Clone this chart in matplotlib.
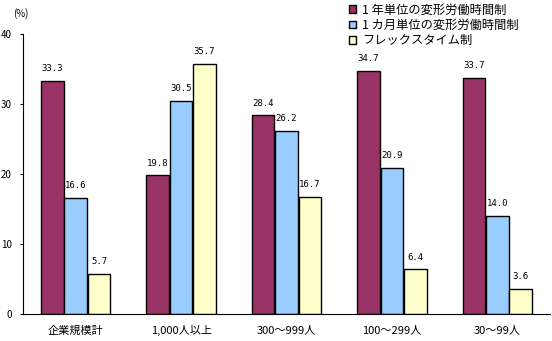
import matplotlib.pyplot as plt
import numpy as np

plt.rcParams['font.family'] = ['Noto Sans CJK JP', 'DejaVu Sans']

categories = ["企業規模計", "1,000人以上", "300～999人", "100～299人", "30～99人"]
series_names = ["1 年単位の変形労働時間制", "1 カ月単位の変形労働時間制", "フレックスタイム制"]
year_unit = [33.3, 19.8, 28.4, 34.7, 33.7]
month_unit = [16.6, 30.5, 26.2, 20.9, 14.0]
flextime = [5.7, 35.7, 16.7, 6.4, 3.6]
colors = ["#993366", "#99CCFF", "#FFFFCC"]

fig = plt.figure(figsize=(5.52, 3.41), dpi=100)
ax = fig.add_axes([0.0417, 0.079, 0.9547, 0.8213])

x = np.arange(len(categories))
width = 0.215
for i, (vals, name) in enumerate(zip([year_unit, month_unit, flextime], series_names)):
    pos = x + (i - 1) * 0.222
    ax.bar(pos, vals, width, color=colors[i], edgecolor="black", linewidth=1, label=name)
    for xp, v in zip(pos, vals):
        ax.text(xp, v + 1.1, f"{v:.1f}", ha="center", va="bottom", fontsize=6.5,
                family="DejaVu Sans Mono")

ax.set_xlim(-0.5, len(categories) - 0.5)
ax.set_ylim(0, 40)
ax.set_yticks([0, 10, 20, 30, 40])
ax.tick_params(axis="y", length=2, labelsize=7, pad=6)
ax.tick_params(axis="x", length=0, labelsize=8, pad=8)
ax.set_xticks(x)
ax.set_xticklabels(categories)
for s in ["top", "right"]:
    ax.spines[s].set_visible(False)

fig.text(13 / 552, 1 - 14 / 341, "(%)", fontsize=7, va="center")
fig.legend(loc="upper left", bbox_to_anchor=(349 / 552, 0.99), frameon=False, fontsize=8.8,
           handlelength=0.55, handleheight=0.55, handletextpad=0.5, labelspacing=0.2,
           borderaxespad=0, borderpad=0)

fig.savefig("out.png", dpi=100)
